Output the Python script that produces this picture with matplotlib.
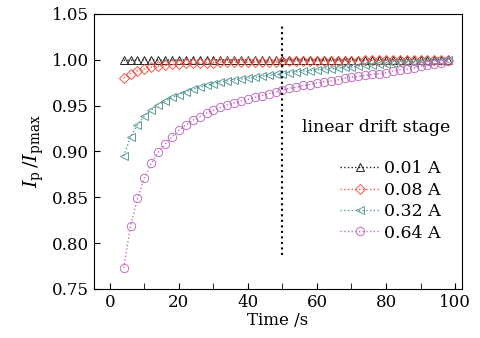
import numpy as np
import matplotlib
matplotlib.use("Agg")
import matplotlib.pyplot as plt

plt.rcParams["font.family"] = "DejaVu Serif"
plt.rcParams["mathtext.fontset"] = "dejavuserif"

# time points (s)
t = list(range(4, 100, 2))

# normalised peak current Ip/Ipmax
i001 = [0.9995, 0.9996, 0.9997, 0.9997, 0.9998, 0.9998, 0.9998, 0.9999, 0.9999, 0.9999,
        0.9999, 0.9999, 1.0000, 1.0000, 1.0000, 1.0000, 1.0000, 1.0000, 1.0000, 1.0000,
        1.0000, 1.0000, 1.0000, 1.0000, 1.0000, 1.0000, 1.0000, 1.0000, 1.0000, 1.0000,
        1.0000, 1.0000, 1.0000, 1.0000, 1.0000, 1.0000, 1.0000, 1.0000, 1.0000, 1.0000,
        1.0000, 1.0000, 1.0000, 1.0000, 1.0000, 1.0000, 1.0000, 1.0000]
i008 = [0.980, 0.985, 0.988, 0.990, 0.992, 0.993, 0.994, 0.995, 0.9955, 0.996,
        0.9963, 0.9966, 0.9968, 0.997, 0.9972, 0.9974, 0.9975, 0.9976, 0.9977, 0.9978,
        0.9979, 0.998, 0.9981, 0.9982, 0.9983, 0.9984, 0.9985, 0.9986, 0.9987, 0.9988,
        0.9989, 0.999, 0.999, 0.9991, 0.9992, 0.9993, 0.9993, 0.9994, 0.9995, 0.9995,
        0.9996, 0.9997, 0.9997, 0.9998, 0.9998, 0.9999, 0.9999, 1.0000]
i032 = [0.895, 0.916, 0.929, 0.939, 0.945, 0.951, 0.955, 0.959, 0.962, 0.965,
        0.968, 0.970, 0.972, 0.974, 0.976, 0.977, 0.978, 0.979, 0.980, 0.981,
        0.982, 0.983, 0.984, 0.985, 0.986, 0.987, 0.988, 0.988, 0.989, 0.990,
        0.990, 0.991, 0.992, 0.992, 0.993, 0.994, 0.994, 0.995, 0.995, 0.996,
        0.996, 0.997, 0.997, 0.998, 0.998, 0.999, 0.999, 1.000]
i064 = [0.773, 0.819, 0.849, 0.871, 0.887, 0.899, 0.908, 0.916, 0.923, 0.929,
        0.934, 0.938, 0.942, 0.945, 0.948, 0.951, 0.953, 0.955, 0.957, 0.959,
        0.961, 0.963, 0.965, 0.967, 0.969, 0.970, 0.972, 0.973, 0.975, 0.976,
        0.977, 0.978, 0.980, 0.981, 0.982, 0.983, 0.984, 0.985, 0.986, 0.988,
        0.989, 0.990, 0.991, 0.993, 0.994, 0.995, 0.997, 0.999]

labels = ["0.01 A", "0.08 A", "0.32 A", "0.64 A"]
colors = ["#222222", "#f05a4a", "#5a9a98", "#c070c0"]
markers = ["^", "D", "<", "o"]
sizes = [6, 5, 6, 6]

fig = plt.figure(figsize=(4.81, 3.38), dpi=100)
ax = fig.add_axes([0.1954, 0.145, 0.765, 0.8136])

for y, lab, c, m, s in zip([i001, i008, i032, i064], labels, colors, markers, sizes):
    ax.plot(t, y, linestyle=":", color=c, linewidth=1.0, marker=m, markersize=s,
            markerfacecolor="none", markeredgecolor=c, markeredgewidth=0.7, label=lab)

ax.plot([50, 50], [0.787, 1.0365], linestyle=":", color="black", linewidth=1.5)
ax.text(98.5, 0.926, "linear drift stage", ha="right", va="center", fontsize=12.5)

ax.set_xlim(-4.6, 102)
ax.set_ylim(0.75, 1.05)
ax.set_xticks(range(0, 101, 20))
ax.set_xticks(range(0, 101, 10), minor=True)
ax.set_yticks([0.75, 0.80, 0.85, 0.90, 0.95, 1.00, 1.05])
ax.tick_params(direction="in", length=4, labelsize=12)
ax.tick_params(which="minor", direction="in", length=4)

ax.set_xlabel("Time /s", fontsize=12, labelpad=1)
ax.set_ylabel(r"$I_\mathrm{p}\,/I_\mathrm{pmax}$", fontsize=14, labelpad=4)

ax.legend(loc="center right", bbox_to_anchor=(0.975, 0.32), frameon=False, fontsize=12.5,
          handlelength=2.2, handletextpad=0.3, labelspacing=0.25, borderpad=0.2)

fig.savefig("out.png", dpi=100)
